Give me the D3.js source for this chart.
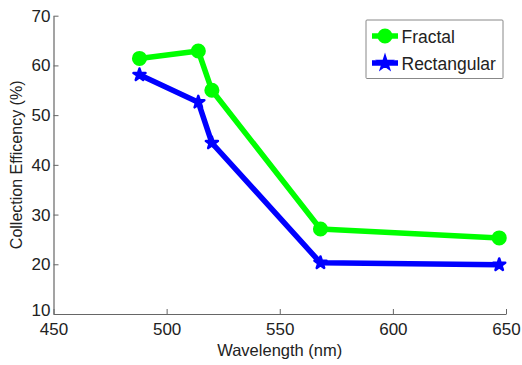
<!DOCTYPE html>
<html>
<head>
<meta charset="utf-8">
<script src="https://cdn.jsdelivr.net/npm/d3@7"></script>
<style>
body { margin: 0; background: #fff; }
text { font-family: "Liberation Sans", Arial, sans-serif; fill: #222; }
</style>
</head>
<body>
<script>
const wavelengths = [488, 514, 520, 568, 647]
const fractal = [61.4, 62.9, 55.0, 27.1, 25.3]
const rectangular = [58.1, 52.6, 44.4, 20.3, 19.9]
const xTicks = [450, 500, 550, 600, 650]
const yTicks = [10, 20, 30, 40, 50, 60, 70]

const WIDTH = 522
const HEIGHT = 365
const M = { left: 53.5, right: 16, top: 15.7, bottom: 51 }

const svg = d3.select("body").append("svg")
    .attr("width", WIDTH)
    .attr("height", HEIGHT)

const x = d3.scaleLinear().domain([450, 650]).range([M.left, WIDTH - M.right])
const y = d3.scaleLinear().domain([10, 70]).range([HEIGHT - M.bottom, M.top])

const xAxis = svg.append("g")
    .attr("transform", `translate(0,${y(10)})`)
    .call(d3.axisBottom(x).tickValues(xTicks).tickSizeInner(-5).tickSizeOuter(0).tickPadding(9))
const yAxis = svg.append("g")
    .attr("transform", `translate(${x(450)},0)`)
    .call(d3.axisLeft(y).tickValues(yTicks).tickSizeInner(-5).tickSizeOuter(0).tickPadding(3))

;[xAxis, yAxis].forEach(a => {
    a.select(".domain").attr("stroke", "#666").attr("stroke-width", 1.2)
    a.selectAll(".tick line").attr("stroke", "#666")
    a.selectAll(".tick text").attr("font-size", 17).attr("font-family", "Liberation Sans, Arial, sans-serif").attr("fill", "#222")
})
// bottom y label sits a bit higher so it clears the 450 label
yAxis.selectAll(".tick text").filter(d => d === 10).attr("dy", "0.1em")

svg.append("text")
    .attr("x", (x(450) + x(650)) / 2)
    .attr("y", 356)
    .attr("text-anchor", "middle")
    .attr("font-size", 16.5)
    .text("Wavelength (nm)")

svg.append("text")
    .attr("transform", `translate(22,${(y(10) + y(70)) / 2}) rotate(-90)`)
    .attr("text-anchor", "middle")
    .attr("font-size", 16)
    .text("Collection Efficency (%)")

const series = [
    { name: "Fractal", values: fractal, color: "#00ff00", symbol: d3.symbolCircle, size: 125 },
    { name: "Rectangular", values: rectangular, color: "#0000ff", symbol: d3.symbolStar, size: 45 }
]

const line = d3.line()
    .x(d => x(d[0]))
    .y(d => y(d[1]))

series.forEach(s => {
    const pts = wavelengths.map((w, i) => [w, s.values[i]])
    svg.append("path")
        .datum(pts)
        .attr("d", line)
        .attr("fill", "none")
        .attr("stroke", s.color)
        .attr("stroke-width", 5.5)
        .attr("stroke-linejoin", "round")
    svg.selectAll(null)
        .data(pts)
        .enter()
        .append("path")
        .attr("transform", d => `translate(${x(d[0])},${y(d[1])})`)
        .attr("d", d3.symbol().type(s.symbol).size(s.size))
        .attr("fill", s.color)
        .attr("stroke", s.color)
        .attr("stroke-width", 2.5)
        .attr("stroke-linejoin", "round")
})

// legend
const legend = svg.append("g").attr("transform", "translate(366,20)")
legend.append("rect")
    .attr("width", 137)
    .attr("height", 58.5)
    .attr("fill", "#fff")
    .attr("stroke", "#888")
    .attr("stroke-width", 1)
    .attr("rx", 1)

series.forEach((s, i) => {
    const cy = 16 + i * 27
    legend.append("line")
        .attr("x1", 6).attr("x2", 32)
        .attr("y1", cy).attr("y2", cy)
        .attr("stroke", s.color)
        .attr("stroke-width", 5.5)
    legend.append("path")
        .attr("transform", `translate(19,${cy})`)
        .attr("d", d3.symbol().type(s.symbol).size(s.size))
        .attr("fill", s.color)
        .attr("stroke", s.color)
        .attr("stroke-width", 2.5)
    legend.append("text")
        .attr("x", 35.5)
        .attr("y", cy + 6.5)
        .attr("font-size", 17.5)
        .text(s.name)
})
</script>
</body>
</html>
